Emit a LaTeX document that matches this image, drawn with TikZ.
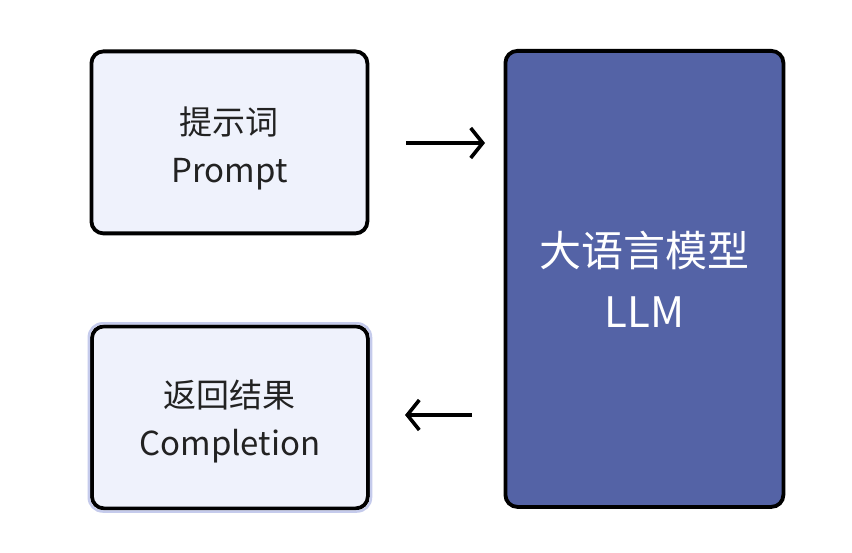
\documentclass[tikz,border=0pt]{standalone}
\usepackage{fontspec}
\setmainfont{Noto Sans CJK SC}
\usetikzlibrary{arrows.meta}
\definecolor{boxfill}{HTML}{EFF2FC}
\definecolor{llmfill}{HTML}{5463A6}
\definecolor{halo}{HTML}{C5CBEC}
\definecolor{txt}{HTML}{222222}
\begin{document}
\begin{tikzpicture}[x=1pt,y=-1pt,
  lightbox/.style={draw=black, line width=3.8pt, fill=boxfill, rounded corners=12pt,
    minimum width=276pt, minimum height=182pt, inner sep=0pt, anchor=north west},
  lighttext/.style={text=txt, font=\fontsize{33}{48}\selectfont, align=center},
  llmbox/.style={draw=black, line width=3.8pt, fill=llmfill, rounded corners=12pt,
    minimum width=278pt, minimum height=456pt, inner sep=0pt, anchor=north west,
    text=white, font=\fontsize{42}{61}\selectfont, align=center},
  flow/.style={line width=3.6pt, -{Straight Barb[length=12pt,width=30pt,line width=3.6pt]}}]
\useasboundingbox (0,0) rectangle (852,553);
\fill[white] (0,0) rectangle (852,553);
\node[lightbox] (p) at (89.5,49.5) {};
\node[lighttext] (pt) at ([yshift=-6pt]p.center) {提示词\\Prompt};
\node[lightbox] (c) at (90,324.5) {};
\draw[halo, line width=2.5pt, rounded corners=14pt]
  ([shift={(-1.2,-1.2)}]c.north west) rectangle ([shift={(1.2,1.2)}]c.south east);
\node[lighttext] (ct) at ([yshift=-4.5pt]c.center) {返回结果\\Completion};
\node[llmbox] (l) at (503.5,49) {大语言模型\\LLM};
\coordinate (a1) at (406,143);
\coordinate (a2) at (485,143);
\coordinate (b1) at (472,415);
\coordinate (b2) at (405,415);
\draw[flow] (a1) -- (a2);
\draw[flow] (b1) -- (b2);
\end{tikzpicture}
\end{document}
